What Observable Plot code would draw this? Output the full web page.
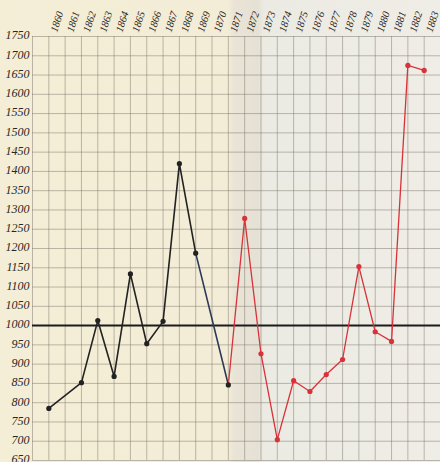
<!DOCTYPE html>
<html>
<head>
<meta charset="utf-8">
<script src="https://cdn.jsdelivr.net/npm/d3@7"></script>
<script src="https://cdn.jsdelivr.net/npm/@observablehq/plot@0.6"></script>
<style>
  html, body { margin: 0; padding: 0; }
  body {
    width: 440px; height: 462px; overflow: hidden;
    background: linear-gradient(to right, #f4eed7 0px, #f3ecd6 228px, #e9e4d6 234px, #e6e1d5 258px, #ecebe3 264px, #efede6 440px);
  }
  #chart svg { display: block; background: transparent; }
</style>
</head>
<body>
<div id="chart"></div>
<script>
// Year columns and value ticks
const yearTicks = d3.range(1859, 1885);
const yearLabels = d3.range(1860, 1885);
const valueTicks = d3.range(650, 1751, 50);
const baseline = [1000];

// Black series 1860–1869 (1861 has no marker)
const blackYears = [1860, 1862, 1863, 1864, 1865, 1866, 1867, 1868, 1869];
const blackValues = [785, 852, 1013, 868, 1134, 953, 1011, 1420, 1188];

// Blue connector 1869 -> 1871
const blueYears = [1869, 1871];
const blueValues = [1188, 846];

// Red series 1871–1883
const redYears = [1871, 1872, 1873, 1874, 1875, 1876, 1877, 1878, 1879, 1880, 1881, 1882, 1883];
const redValues = [846, 1278, 927, 704, 857, 829, 873, 912, 1153, 984, 959, 1675, 1662];

const toRows = (xs, ys) => xs.map((x, i) => ({year: x, value: ys[i]}));
const black = toRows(blackYears, blackValues);
const blue = toRows(blueYears, blueValues);
const red = toRows(redYears, redValues);

const font = "'Liberation Serif', 'DejaVu Serif', serif";

const chart = Plot.plot({
  width: 440,
  height: 462,
  marginLeft: 32,
  marginRight: 0,
  marginTop: 36,
  marginBottom: 2,
  style: {background: "transparent", fontFamily: font, overflow: "visible"},
  x: {domain: [1859, 1884], axis: null},
  y: {domain: [650, 1750], axis: null},
  marks: [
    Plot.ruleX(yearTicks, {x: d => d, stroke: "#7a7468", strokeWidth: 0.8, strokeOpacity: 0.6}),
    Plot.ruleY(valueTicks, {y: d => d, stroke: "#7a7468", strokeWidth: 0.8, strokeOpacity: 0.6}),
    Plot.ruleY(baseline, {y: d => d, stroke: "#1c1c1c", strokeWidth: 2}),
    Plot.text(valueTicks, {
      y: d => d, frameAnchor: "left", dx: -3, dy: -1, text: d => String(d),
      textAnchor: "end", fontStyle: "italic", fontSize: 12, fill: "#2a2620"
    }),
    Plot.text(yearLabels, {
      x: d => d, frameAnchor: "top", dy: -6, dx: 1, text: d => String(d),
      textAnchor: "start", rotate: -72, fontStyle: "italic", fontSize: 10.5, fill: "#2a2620"
    }),
    Plot.line(blue, {x: "year", y: "value", stroke: "#2c3a58", strokeWidth: 1.6}),
    Plot.line(red, {x: "year", y: "value", stroke: "#d8323a", strokeWidth: 1.3}),
    Plot.line(black, {x: "year", y: "value", stroke: "#222222", strokeWidth: 1.6}),
    Plot.dot(red.slice(1), {x: "year", y: "value", r: 2.6, fill: "#d8323a", stroke: "none"}),
    Plot.dot([...black, blue[1]], {x: "year", y: "value", r: 2.6, fill: "#222222", stroke: "none"})
  ]
});
document.getElementById("chart").appendChild(chart);
</script>
</body>
</html>
